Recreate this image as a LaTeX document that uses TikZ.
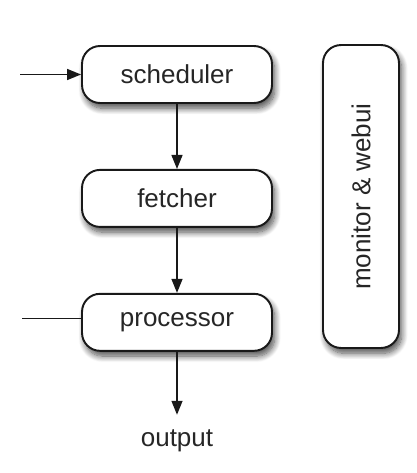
\documentclass[tikz,border=0pt]{standalone}
\usepackage{fontspec}
\setmainfont{Liberation Sans}
\usetikzlibrary{positioning,arrows.meta,shadows.blur}

\begin{document}
\begin{tikzpicture}[
        x=0.02cm, y=0.02cm,
        node distance=1.3cm,
        label/.style={font=\fontsize{14.8}{18}\selectfont, text=black!85},
        box/.style={draw=black!90, line width=1.1pt, rectangle, rounded corners=0.36cm, fill=white,
            minimum width=3.8cm, minimum height=1.14cm, label,
            blur shadow={shadow xshift=1.5pt, shadow yshift=-3pt, shadow blur radius=3.5pt, shadow blur steps=10, shadow opacity=70}},
        arrow/.style={-{Triangle[length=0.28cm, width=0.22cm]}, line width=0.8pt, draw=black!90}
    ]
        \useasboundingbox (0,0) rectangle (416,-473);

        \node[box] (scheduler) at (177,-74.5) {scheduler};
        \node[box, below=of scheduler] (fetcher) {fetcher};
        \node[box, below=of fetcher] (processor) {processor};
        \node[label, below=1.44cm of processor] (output) {output};

        \node[box, minimum width=1.52cm, minimum height=6.06cm] (monitor) at (361,-196.5) {\rotatebox{90}{monitor \& webui}};

        \coordinate (in) at (20,-74.5);
        \coordinate (feed) at (22,-318.5);

        \draw[arrow] (in) -- (in -| scheduler.west);
        \draw[arrow] (scheduler) -- (fetcher);
        \draw[arrow] (fetcher) -- (processor);
        \draw[arrow, shorten >=0.18cm] (processor) -- (output);
        \draw[line width=0.8pt, draw=black!90] (feed) -- (feed -| processor.west);
    \end{tikzpicture}
\end{document}
